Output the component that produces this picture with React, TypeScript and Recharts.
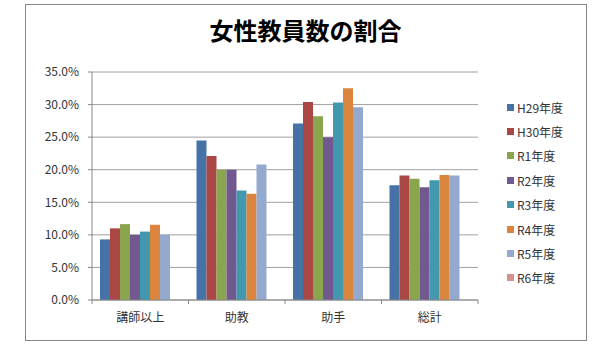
import { Bar, BarChart, CartesianGrid, XAxis, YAxis } from "recharts"

const categories = ["講師以上", "助教", "助手", "総計"]

const seriesNames = ["H29年度", "H30年度", "R1年度", "R2年度", "R3年度", "R4年度", "R5年度", "R6年度"]

const h29 = [9.3, 24.5, 27.1, 17.6]
const h30 = [11.0, 22.1, 30.4, 19.1]
const r1 = [11.65, 20.0, 28.2, 18.6]
const r2 = [10.0, 20.0, 25.0, 17.3]
const r3 = [10.5, 16.8, 30.3, 18.4]
const r4 = [11.55, 16.3, 32.5, 19.2]
const r5 = [10.0, 20.8, 29.6, 19.1]
const r6: (number | null)[] = [null, null, null, null]

const yTicks = [0, 5, 10, 15, 20, 25, 30, 35]

const colors = ["#4572A7", "#AA4643", "#89A54E", "#71588F", "#4198AF", "#DB843D", "#93A9CF", "#D19392"]

const allSeries = [h29, h30, r1, r2, r3, r4, r5, r6]

const chartData = categories.map((name, i) => {
  const row: Record<string, string | number | null> = { name }
  seriesNames.forEach((s, j) => {
    row[s] = allSeries[j][i]
  })
  return row
})

const FONT = "'Noto Sans CJK JP', sans-serif"
const PLOT_LEFT = 92
const PLOT_RIGHT = 478
const HALF_BAND = (PLOT_RIGHT - PLOT_LEFT) / categories.length / 2

function CategoryTick(props: any) {
  const { x, y, payload, index } = props
  const last = index === categories.length - 1
  return (
    <g>
      <line x1={x - HALF_BAND} y1={y - 8} x2={x - HALF_BAND} y2={y - 4} stroke="#888" />
      {last && <line x1={x + HALF_BAND} y1={y - 8} x2={x + HALF_BAND} y2={y - 4} stroke="#888" />}
      <text x={x} y={y + 14} textAnchor="middle" fontSize={12} fill="#333" fontFamily={FONT}>
        {payload.value}
      </text>
    </g>
  )
}

// legend drawn as plain html to the right of the plot
function SideLegend() {
  return (
    <div style={{ position: "absolute", left: 507, top: 95, fontFamily: FONT, fontSize: 12, color: "#333" }}>
      {seriesNames.map((s, i) => (
        <div key={s} style={{ display: "flex", alignItems: "center", height: 24.4 }}>
          <span style={{ width: 7, height: 7, background: colors[i], marginRight: 3, display: "inline-block" }} />
          <span>{s}</span>
        </div>
      ))}
    </div>
  )
}

export default function App() {
  return (
    <div style={{ position: "absolute", left: 0, top: 0, width: 600, height: 361, background: "#fff" }}>
      <div
        style={{
          position: "absolute",
          left: 25,
          top: 4,
          width: 560,
          height: 335,
          border: "1px solid #888",
        }}
      />
      <div
        style={{
          position: "absolute",
          left: 0,
          top: 18,
          width: 611,
          textAlign: "center",
          fontFamily: FONT,
          fontSize: 24,
          lineHeight: "24px",
          fontWeight: "bold",
          color: "#000",
        }}
      >
        女性教員数の割合
      </div>
      <SideLegend />
      <div style={{ position: "absolute", left: 0, top: 0 }}>
        <BarChart
          width={600}
          height={361}
          data={chartData}
          margin={{ top: 72, right: 600 - PLOT_RIGHT, left: 0, bottom: 31 }}
          barCategoryGap={8}
          barGap={0}
        >
          <CartesianGrid vertical={false} stroke="#a0a0a0" />
          <XAxis
            dataKey="name"
            height={30}
            tickLine={false}
            axisLine={{ stroke: "#888" }}
            tick={<CategoryTick />}
            interval={0}
          />
          <YAxis
            width={PLOT_LEFT}
            domain={[0, 35]}
            ticks={yTicks}
            tickFormatter={(v: number) => `${v.toFixed(1)}%`}
            tickSize={4}
            tickMargin={9}
            tickLine={{ stroke: "#888" }}
            axisLine={{ stroke: "#888" }}
            tick={{ fontSize: 12, fill: "#333", fontFamily: FONT }}
          />
          {seriesNames.map((s, i) => (
            <Bar key={s} dataKey={s} fill={colors[i]} isAnimationActive={false} />
          ))}
        </BarChart>
      </div>
    </div>
  )
}
